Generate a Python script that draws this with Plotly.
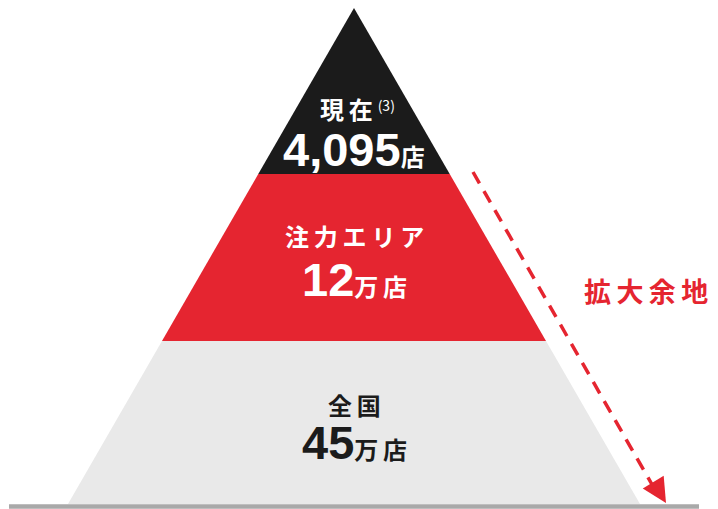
import plotly.graph_objects as go

# tiers, top to bottom
tier_names = ["現在", "注力エリア", "全国"]
tier_values = ["4,095", "12", "45"]
tier_units = ["店", "万店", "万店"]
tier_notes = ["(3)", "", ""]
tier_colors = ["#1b1b1b", "#e52530", "#e9e9e9"]
text_colors = ["white", "white", "#1b1b1b"]
growth_label = "拡大余地"

W, H = 718, 509
apex_x, apex_y = 354, 8
base_y, half_base = 504, 286
cuts = [apex_y, 174, 341, base_y]

def half_w(y):
    return half_base * (y - apex_y) / (base_y - apex_y)

NUM_FONT = "Liberation Sans, Noto Sans CJK JP, sans-serif"
JP_FONT = "Noto Sans CJK JP, sans-serif"
THIN = "\u2009"

fig = go.Figure()
for i, name in enumerate(tier_names):
    y0, y1 = cuts[i], cuts[i + 1]
    xs = [apex_x - half_w(y0), apex_x + half_w(y0), apex_x + half_w(y1), apex_x - half_w(y1), apex_x - half_w(y0)]
    ys = [y0, y0, y1, y1, y0]
    fig.add_trace(go.Scatter(x=xs, y=ys, mode='lines', fill='toself', fillcolor=tier_colors[i],
                             line=dict(width=0, color=tier_colors[i]), hoverinfo='skip', showlegend=False))

# base line
fig.add_trace(go.Scatter(x=[9, 699], y=[506.5, 506.5], mode='lines', line=dict(color='#a9a9a9', width=4.5),
                         hoverinfo='skip', showlegend=False))

# dashed arrow
fig.add_trace(go.Scatter(x=[473, 654], y=[172, 488], mode='lines',
                         line=dict(color='#e52530', width=3.5, dash='13px,9px'),
                         hoverinfo='skip', showlegend=False))
fig.add_annotation(x=666, y=503, ax=655, ay=485, xref='x', yref='y', axref='x', ayref='y',
                   showarrow=True, arrowhead=2, arrowsize=1.4, arrowwidth=3.5, arrowcolor='#e52530', text='')

# labels
name_y = [108, 235, 404]
val_y = [149, 279, 442]
for i, name in enumerate(tier_names):
    nm = "<b>" + THIN.join(name) + "</b>"
    if tier_notes[i]:
        nm += THIN + "<span style='font-size:20px'><sup>" + tier_notes[i] + "</sup></span>"
    fig.add_annotation(x=apex_x if not tier_notes[i] else apex_x + 3, y=name_y[i], xref='x', yref='y',
                       text=nm, showarrow=False,
                       font=dict(family=JP_FONT, size=24, color=text_colors[i]))
    vt = ("<b>" + tier_values[i] + "</b><b><span style='font-family:Noto Sans CJK JP;font-size:24px'>"
          + THIN.join(tier_units[i]) + "</span></b>")
    fig.add_annotation(x=apex_x, y=val_y[i], xref='x', yref='y', text=vt, showarrow=False,
                       font=dict(family=NUM_FONT, size=47, color=text_colors[i]))

fig.add_annotation(x=646, y=290, xref='x', yref='y', text="<b>" + THIN.join(growth_label) + "</b>",
                   showarrow=False, font=dict(family=JP_FONT, size=27, color='#e52530'))

fig.update_xaxes(range=[0, W], visible=False, fixedrange=True)
fig.update_yaxes(range=[H, 0], visible=False, fixedrange=True)
fig.update_layout(width=W, height=H, margin=dict(l=0, r=0, t=0, b=0),
                  plot_bgcolor='white', paper_bgcolor='white')
fig.write_html("out.html", config={'displayModeBar': False},
               post_script="document.body.style.margin='0';")
